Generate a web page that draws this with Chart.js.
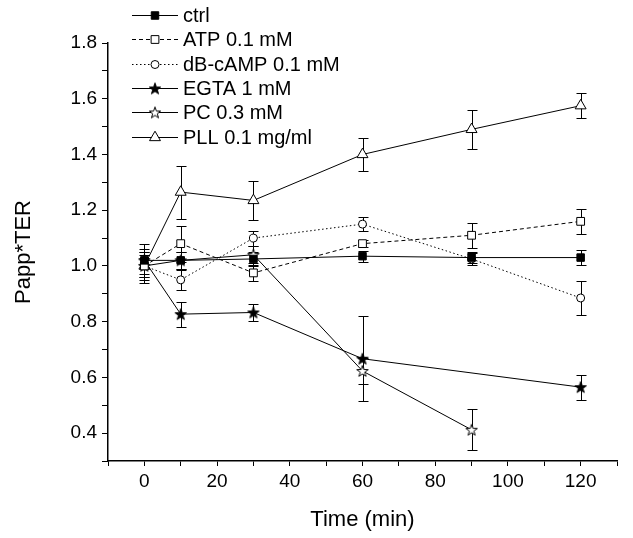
<!DOCTYPE html>
<html>
<head>
<meta charset="utf-8">
<title>Papp*TER</title>
<script src="https://cdn.jsdelivr.net/npm/chart.js@4"></script>
<style>
    html, body { margin: 0; padding: 0; background: #fff; }
</style>
</head>
<body>
<canvas id="ChartPapp" width="633" height="538"></canvas>
<script>
// waktu (min)
const waktu = [0, 10, 30, 60, 90, 120];

const ctrlVal = [1.02, 1.02, 1.025, 1.035, 1.03, 1.03];
const ctrlErr = [0.06, 0.03, 0.025, 0.02, 0.02, 0.028];

const atpVal = [1.0, 1.08, 0.975, 1.08, 1.11, 1.16];
const atpErr = [0.05, 0.065, 0.03, 0.012, 0.045, 0.045];

const dbcampVal = [1.0, 0.95, 1.1, 1.15, 1.025, 0.885];
const dbcampErr = [0.04, 0.035, 0.027, 0.025, 0.02, 0.06];

const egtaVal = [1.02, 0.827, 0.833, 0.667, null, 0.565];
const egtaErr = [0.03, 0.045, 0.03, 0.153, null, 0.045];

const pcVal = [1.0, 1.02, 1.04, 0.623, 0.412, null];
const pcErr = [0.03, 0.03, 0.03, 0.046, 0.074, null];

const pllVal = [1.0, 1.265, 1.235, 1.4, 1.49, 1.575];
const pllErr = [0.06, 0.095, 0.07, 0.06, 0.07, 0.045];

const yTicks = [0.4, 0.6, 0.8, 1.0, 1.2, 1.4, 1.6, 1.8];
const xTicks = [0, 20, 40, 60, 80, 100, 120];

const FONT = '"Liberation Sans", Arial, sans-serif';

// bintang 5 sudut, tidak ada di pointStyle bawaan
function makeStar(filled) {
    const c = document.createElement('canvas');
    c.width = 16;
    c.height = 16;
    const g = c.getContext('2d');
    g.translate(8, 8);
    g.lineWidth = 1;
    g.strokeStyle = '#000';
    g.fillStyle = filled ? '#000' : '#fff';
    g.beginPath();
    for (let i = 0; i < 10; i++) {
        const r = i % 2 ? 2.4 : 6;
        const a = -Math.PI / 2 + i * Math.PI / 5;
        const px = r * Math.cos(a), py = r * Math.sin(a) + 0.5;
        if (i === 0) g.moveTo(px, py); else g.lineTo(px, py);
    }
    g.closePath();
    g.fill();
    g.stroke();
    return c;
}

function toPoints(vals) {
    return waktu.map((t, i) => ({ x: t, y: vals[i] }));
}

const series = [
    { label: 'ctrl', vals: ctrlVal, err: ctrlErr, style: 'rect', radius: 5.3, fillCol: '#000', dash: [] },
    { label: 'ATP 0.1 mM', vals: atpVal, err: atpErr, style: 'rect', radius: 5.5, fillCol: '#fff', dash: [4, 3] },
    { label: 'dB-cAMP 0.1 mM', vals: dbcampVal, err: dbcampErr, style: 'circle', radius: 4, fillCol: '#fff', dash: [1.5, 2.5] },
    { label: 'EGTA 1 mM', vals: egtaVal, err: egtaErr, style: makeStar(true), radius: 6, fillCol: '#000', dash: [] },
    { label: 'PC 0.3 mM', vals: pcVal, err: pcErr, style: makeStar(false), radius: 6, fillCol: '#fff', dash: [] },
    { label: 'PLL 0.1 mg/ml', vals: pllVal, err: pllErr, style: 'triangle', radius: 6.3, fillCol: '#fff', dash: [] }
];

// error bar, digambar di belakang marker
const errorBars = {
    id: 'errorBars',
    beforeDatasetsDraw(chart) {
        const { ctx, scales } = chart;
        ctx.save();
        ctx.strokeStyle = '#000';
        ctx.lineWidth = 1;
        series.forEach(s => {
            s.vals.forEach((v, i) => {
                const e = s.err[i];
                if (v === null || e === null) return;
                const x = Math.round(scales.x.getPixelForValue(waktu[i])) + 0.5;
                const yTop = Math.round(scales.y.getPixelForValue(v + e)) + 0.5;
                const yBot = Math.round(scales.y.getPixelForValue(v - e)) + 0.5;
                ctx.beginPath();
                ctx.moveTo(x, yTop);
                ctx.lineTo(x, yBot);
                ctx.moveTo(x - 5, yTop);
                ctx.lineTo(x + 5, yTop);
                ctx.moveTo(x - 5, yBot);
                ctx.lineTo(x + 5, yBot);
                ctx.stroke();
            });
        });
        ctx.restore();
    }
};

const legendBox = {
    id: 'legendBox',
    afterDraw(chart) {
        const ctx = chart.ctx;
        ctx.save();
        ctx.font = '20px ' + FONT;
        ctx.textBaseline = 'middle';
        series.forEach((s, i) => {
            const y = Math.round(15 + i * 24.3) + 0.5;
            ctx.strokeStyle = '#000';
            ctx.lineWidth = 1;
            ctx.setLineDash(s.dash);
            ctx.beginPath();
            ctx.moveTo(132, y);
            ctx.lineTo(178, y);
            ctx.stroke();
            ctx.setLineDash([]);
            ctx.fillStyle = s.fillCol;
            Chart.helpers.drawPoint(ctx, {
                pointStyle: s.style,
                radius: s.radius,
                rotation: 0,
                borderWidth: 1
            }, 155, y);
            ctx.fillStyle = '#000';
            ctx.fillText(s.label, 183, y + 1);
        });
        ctx.restore();
    }
};

document.addEventListener('DOMContentLoaded', () => {
    const ctx = document.getElementById('ChartPapp').getContext('2d');

    new Chart(ctx, {
        type: 'line',
        data: {
            datasets: series.map(s => ({
                label: s.label,
                data: toPoints(s.vals),
                borderColor: '#000',
                borderWidth: 1,
                borderDash: s.dash,
                pointStyle: s.style,
                pointRadius: s.radius,
                pointBorderWidth: 1,
                pointBorderColor: '#000',
                pointBackgroundColor: s.fillCol,
                fill: false,
                tension: 0,
                spanGaps: true
            }))
        },
        options: {
            responsive: false,
            animation: false,
            devicePixelRatio: 1,
            layout: {
                padding: { left: 0, top: 43, right: 16, bottom: 0 }
            },
            plugins: {
                legend: { display: false },
                tooltip: { enabled: false }
            },
            scales: {
                x: {
                    type: 'linear',
                    min: -10,
                    max: 130,
                    afterFit: s => { s.height = 77; },
                    afterBuildTicks: s => {
                        s.ticks = [];
                        for (let v = -10; v <= 130; v += 10) s.ticks.push({ value: v });
                    },
                    ticks: {
                        autoSkip: false,
                        maxRotation: 0,
                        color: '#000',
                        padding: 4,
                        font: { family: FONT, size: 19 },
                        callback: v => xTicks.includes(v) ? String(v) : ''
                    },
                    grid: {
                        drawOnChartArea: false,
                        drawTicks: true,
                        tickLength: 5,
                        color: '#000'
                    },
                    border: { display: true, color: '#000', width: 1.5 },
                    title: {
                        display: true,
                        text: 'Time (min)',
                        color: '#000',
                        font: { family: FONT, size: 22 },
                        padding: { top: 0, bottom: 5 }
                    }
                },
                y: {
                    min: 0.3,
                    max: 1.8,
                    afterFit: s => { s.width = 108; },
                    afterBuildTicks: s => {
                        s.ticks = [];
                        for (let k = 3; k <= 18; k++) s.ticks.push({ value: k / 10 });
                    },
                    ticks: {
                        autoSkip: false,
                        color: '#000',
                        padding: 5,
                        font: { family: FONT, size: 19 },
                        callback: v => {
                            const t = yTicks.find(y => Math.abs(y - v) < 1e-6);
                            return t !== undefined ? t.toFixed(1) : '';
                        }
                    },
                    grid: {
                        drawOnChartArea: false,
                        drawTicks: true,
                        tickLength: 6,
                        color: '#000'
                    },
                    border: { display: true, color: '#000', width: 1.5 },
                    title: {
                        display: true,
                        text: 'Papp*TER',
                        color: '#000',
                        font: { family: FONT, size: 22 },
                        padding: { top: 11, bottom: 0 }
                    }
                }
            }
        },
        plugins: [errorBars, legendBox]
    });
});
</script>
</body>
</html>
